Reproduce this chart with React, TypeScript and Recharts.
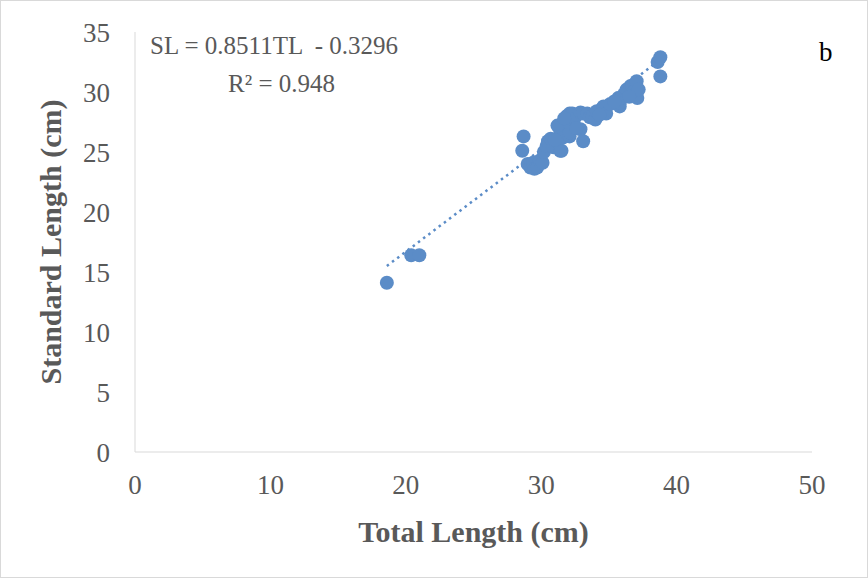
import { ScatterChart, Scatter, XAxis, YAxis } from "recharts";

const xTicks = [0, 10, 20, 30, 40, 50];
const yTicks = [0, 5, 10, 15, 20, 25, 30, 35];

// total length (cm) / standard length (cm)
const totalLength = [
  18.6, 20.4, 21.0,
  28.7, 28.6, 29.0, 29.2, 29.4, 29.5, 29.7, 29.9, 30.1, 30.2, 30.4, 30.5, 30.7, 30.9, 31.4, 31.5,
  31.4, 31.5, 31.6, 32.1, 32.1, 32.9, 33.1, 31.9, 31.9, 32.1, 32.3, 32.4, 32.9, 33.1, 33.4, 33.6,
  33.8, 34.0, 34.1, 34.5, 34.6, 34.8, 35.1, 35.7, 35.8, 35.8, 35.9, 36.1, 36.3, 36.3, 36.6, 36.7,
  36.8, 37.05, 37.1, 37.2, 38.6, 38.8, 38.8,
  31.0, 31.2, 31.7, 32.6, 34.3, 35.4, 36.5,
];
const standardLength = [
  14.1, 16.4, 16.4,
  26.3, 25.1, 24.0, 23.7, 24.1, 23.6, 23.7, 24.3, 24.1, 25.0, 25.5, 25.9, 26.1, 25.4, 25.1, 25.1,
  26.8, 26.9, 26.2, 26.3, 26.6, 26.9, 25.9, 27.5, 28.0, 28.2, 28.2, 27.7, 28.3, 28.2, 28.2, 27.9,
  28.0, 27.7, 28.4, 28.6, 28.8, 28.2, 29.0, 29.5, 28.8, 29.1, 29.5, 29.8, 30.0, 30.2, 30.5, 30.5,
  30.0, 30.9, 29.5, 30.2, 32.5, 32.9, 31.3,
  26.0, 27.2, 27.8, 27.0, 28.1, 29.2, 29.6,
];

// linear trend end points
const trendX = [18.6, 38.8];
const trendY = [15.5, 32.7];

const points = totalLength.map((x, i) => ({ x, y: standardLength[i] }));
const trend = trendX.map((x, i) => ({ x, y: trendY[i] }));

const BLUE = "#5B8CC7";
const GREY = "#595959";
const FONT = '"Liberation Serif", "Times New Roman", serif';

const Dot = (p: any) => <circle cx={p.cx} cy={p.cy} r={7} fill={BLUE} />;

export default function App() {
  return (
    <div style={{ position: "absolute", left: 0, top: 0, width: 868, height: 578, fontFamily: FONT }}>
      <ScatterChart width={868} height={578} margin={{ top: 32, right: 56, left: 0, bottom: 0 }}>
        <XAxis
          type="number" dataKey="x" domain={[0, 50]} ticks={xTicks} height={126}
          tickLine={false} tickMargin={17} axisLine={{ stroke: "#D9D9D9" }}
          tick={{ fill: GREY, fontSize: 27, fontFamily: FONT }}
          label={{ value: "Total Length (cm)", position: "insideBottom", offset: 36, fill: GREY, fontSize: 30, fontWeight: "bold", fontFamily: FONT }}
        />
        <YAxis
          type="number" dataKey="y" domain={[0, 35]} ticks={yTicks} width={135}
          tickLine={false} tickMargin={19} axisLine={{ stroke: "#D9D9D9" }}
          tick={{ fill: GREY, fontSize: 27, fontFamily: FONT }}
          label={{ value: "Standard Length (cm)", angle: -90, position: "insideLeft", offset: 50, fill: GREY, fontSize: 30, fontWeight: "bold", fontFamily: FONT, style: { textAnchor: "middle" } }}
        />
        <Scatter data={trend} isAnimationActive={false} shape={() => null}
          line={{ stroke: BLUE, strokeWidth: 2.5, strokeDasharray: "2.5 4" }} />
        <Scatter data={points} isAnimationActive={false} shape={Dot} />
      </ScatterChart>
      <div style={{ position: "absolute", left: 150, top: 31, fontSize: 25, color: GREY, whiteSpace: "pre", lineHeight: "30px" }}>
        SL = 0.8511TL  - 0.3296
      </div>
      <div style={{ position: "absolute", left: 228, top: 69, fontSize: 25, color: GREY, whiteSpace: "pre", lineHeight: "30px" }}>
        R² = 0.948
      </div>
      <div style={{ position: "absolute", left: 819, top: 37, fontSize: 27, color: "#000", lineHeight: "30px" }}>
        b
      </div>
      <div style={{ position: "absolute", left: 0, top: 0, width: 868, height: 578, boxSizing: "border-box", border: "1px solid #D9D9D9", pointerEvents: "none" }} />
    </div>
  );
}
